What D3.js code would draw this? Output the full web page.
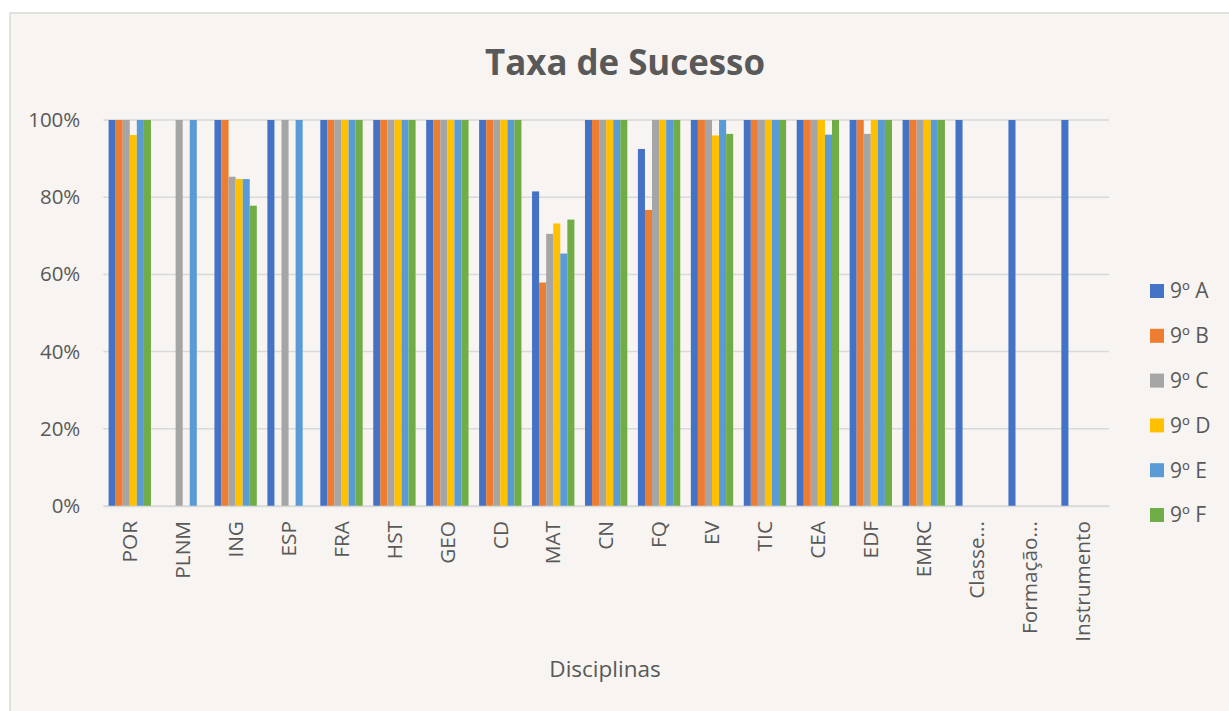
<!DOCTYPE html>
<html><head><meta charset="utf-8">
<script src="https://cdn.jsdelivr.net/npm/d3@7"></script>
<style>html,body{margin:0;padding:0;background:#fff;}svg{display:block;}</style>
</head><body>
<svg id="c" width="1229" height="711"></svg>
<script>
const categories = ["POR","PLNM","ING","ESP","FRA","HST","GEO","CD","MAT","CN","FQ","EV","TIC","CEA","EDF","EMRC","Classe...","Formação...","Instrumento"];
const seriesNames = ["9º A","9º B","9º C","9º D","9º E","9º F"];
const colors = ["#4472C4","#ED7D31","#A5A5A5","#FFC000","#5B9BD5","#70AD47"];
const s9A = [100,null,100,100,100,100,100,100,81.5,100,92.5,100,100,100,100,100,100,100,100];
const s9B = [100,null,100,null,100,100,100,100,57.9,100,76.7,100,100,100,100,100,null,null,null];
const s9C = [100,100,85.3,100,100,100,100,100,70.5,100,100,100,100,100,96.4,100,null,null,null];
const s9D = [96.1,null,84.7,null,100,100,100,100,73.2,100,100,96,100,100,100,100,null,null,null];
const s9E = [100,100,84.7,100,100,100,100,100,65.4,100,100,100,100,96.2,100,100,null,null,null];
const s9F = [100,null,77.8,null,100,100,100,100,74.2,100,100,96.4,100,100,100,100,null,null,null];
const yTicks = [0,20,40,60,80,100];
const series = [s9A,s9B,s9C,s9D,s9E,s9F];

const svg = d3.select("#c");
svg.append("rect").attr("x",10).attr("y",13).attr("width",1230).attr("height",710)
  .attr("fill","#f7f4f1").attr("stroke","#d9d9d9").attr("stroke-width",1.5);

const pLeft=103.3, pRight=1109, pTop=120, pBottom=506;
const x = d3.scaleBand().domain(categories).range([pLeft,pRight]).paddingInner(0.2).paddingOuter(0.1);
const xs = d3.scaleBand().domain(seriesNames).range([0,x.bandwidth()]);
const y = d3.scaleLinear().domain([0,100]).range([pBottom,pTop]);

const font = "'Open Sans', sans-serif";
const txt = "#595959";

svg.append("text").attr("x",625).attr("y",75).attr("text-anchor","middle")
  .attr("font-family",font).attr("font-weight",700).attr("font-size",35).attr("fill",txt)
  .attr("textLength",280).attr("lengthAdjust","spacingAndGlyphs").text("Taxa de Sucesso");

// grid
svg.append("g").selectAll("line").data(yTicks).join("line")
  .attr("x1",pLeft).attr("x2",pRight).attr("y1",d=>y(d)).attr("y2",d=>y(d))
  .attr("stroke","#d9d9d9").attr("stroke-width",1.5);

// y axis labels
const ya = svg.append("g").attr("transform",`translate(${pLeft},0)`)
  .call(d3.axisLeft(y).tickValues(yTicks).tickFormat(d=>d+"%").tickSize(0).tickPadding(23));
ya.select(".domain").remove();
ya.selectAll("text").attr("font-family",font).attr("font-size",20.5).attr("fill",txt);

// bars
const g = svg.append("g");
series.forEach((vals,si)=>{
  g.append("g").selectAll("rect").data(categories.map((c,i)=>({c,v:vals[i]})).filter(d=>d.v!=null))
   .join("rect")
   .attr("x",d=>x(d.c)+xs(seriesNames[si]))
   .attr("width",xs.bandwidth())
   .attr("y",d=>y(d.v)).attr("height",d=>y(0)-y(d.v))
   .attr("fill",colors[si]);
});

// x axis
const xa = svg.append("g").attr("transform",`translate(0,${pBottom})`)
  .call(d3.axisBottom(x).tickSize(0).tickPadding(0));
xa.select(".domain").attr("stroke","#d9d9d9").attr("stroke-width",1.5);
xa.selectAll("text").attr("font-family",font).attr("font-size",20.8).attr("fill",txt)
  .attr("transform","rotate(-90)").attr("text-anchor","end").attr("dy","0.35em").attr("x",-15).attr("y",0);

svg.append("text").attr("x",605).attr("y",677).attr("text-anchor","middle")
  .attr("font-family",font).attr("font-size",22.5).attr("fill",txt).text("Disciplinas");

// legend
const lg = svg.append("g");
seriesNames.forEach((n,i)=>{
  const yy = 284 + i*44.8;
  lg.append("rect").attr("x",1150).attr("y",yy).attr("width",14).attr("height",14).attr("fill",colors[i]);
  lg.append("text").attr("x",1170).attr("y",yy+7).attr("dy","0.35em")
    .attr("font-family",font).attr("font-size",21).attr("fill",txt).text(n);
});
</script>
</body></html>
